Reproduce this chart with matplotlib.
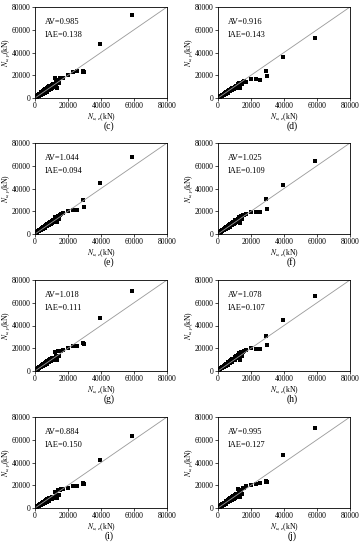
import matplotlib
matplotlib.use("Agg")
import matplotlib.pyplot as plt

plt.rcParams['font.family'] = ['Liberation Serif', 'DejaVu Serif']
plt.rcParams['mathtext.fontset'] = 'stix'

# experimental capacity N_u,e (kN), shared by all panels
n_exp = [500, 700, 900, 1100, 1300, 1500, 1800, 2100, 2400, 2700, 3000, 3400, 3800,
         4200, 4600, 5000, 5400, 5800, 6200, 6600, 7000, 7400, 7800, 8200, 8600, 9000,
         9500, 10000, 10500, 11000, 11500, 12000, 12500, 13000, 13500, 14000, 14500,
         15000, 16000, 17000, 20000, 23000, 25500, 29000, 29300, 29500, 39500, 59000]

# predicted capacity N_u,p (kN) for each method
n_pred_c = [600, 900, 700, 1400, 1600, 1100, 2300, 2600, 1800, 3400, 3700, 2700, 4900,
            5300, 3700, 6300, 6700, 4600, 7700, 8100, 5700, 9200, 9500, 6800, 10500, 10900,
            7900, 11800, 8700, 12500, 9800, 18000, 11800, 14500, 9000, 15500, 12800,
            18000, 17500, 18000, 20500, 23000, 23500, 24000, 23000, 22500, 47500, 73000]
n_pred_d = [500, 750, 750, 1150, 1350, 1200, 1800, 2100, 2000, 2800, 3000, 2800, 3900,
            4200, 3800, 5100, 5400, 4800, 6200, 6600, 5800, 7400, 7800, 6800, 8500, 8900,
            7900, 9800, 8500, 10500, 9000, 12000, 10500, 13000, 8500, 13500, 12000,
            14000, 15000, 14500, 16500, 16500, 16000, 24000, 24000, 19000, 36000, 53000]
n_pred_e = [600, 850, 850, 1300, 1600, 1350, 2200, 2500, 2200, 3200, 3600, 3200, 4500,
            5000, 4300, 5900, 6400, 5500, 7300, 7700, 6600, 8700, 9100, 7800, 9900, 10300,
            9000, 11500, 9500, 12500, 10500, 15000, 12500, 14500, 10500, 16000, 13500,
            17000, 18000, 18500, 20000, 21000, 21000, 29500, 29500, 23500, 45000, 68000]
n_pred_f = [600, 850, 850, 1300, 1550, 1350, 2100, 2450, 2200, 3200, 3500, 3100, 4400,
            4900, 4200, 5800, 6300, 5400, 7200, 7600, 6500, 8500, 8900, 7600, 9800, 10200,
            8800, 12000, 9500, 12500, 10500, 13500, 12500, 15000, 9500, 16000, 13000,
            16500, 17000, 17500, 19000, 19000, 19000, 31000, 31000, 22000, 43500, 64500]
n_pred_g = [600, 850, 850, 1300, 1550, 1350, 2100, 2450, 2200, 3150, 3500, 3100, 4400,
            4900, 4200, 5800, 6200, 5300, 7100, 7600, 6500, 8500, 8900, 7600, 9800, 10200,
            8800, 11000, 9300, 11500, 10000, 17000, 12000, 13500, 10000, 17500, 13000,
            17500, 18000, 18500, 20000, 22000, 22000, 25000, 24500, 24000, 46500, 70500]
n_pred_h = [650, 900, 900, 1350, 1600, 1450, 2200, 2600, 2400, 3300, 3700, 3400, 4600,
            5100, 4600, 6100, 6500, 5700, 7500, 8000, 7000, 9000, 9400, 8200, 10300, 10800,
            9600, 12500, 10000, 13000, 11000, 14000, 13000, 15500, 10000, 16500, 13500,
            17000, 18000, 18500, 20000, 19500, 19500, 31000, 30500, 23000, 44500, 65500]
n_pred_i = [500, 750, 700, 1150, 1350, 1150, 1850, 2150, 1850, 2750, 3100, 2650, 3900,
            4300, 3600, 5100, 5500, 4500, 6300, 6600, 5500, 7500, 7900, 6500, 8600, 9000,
            7500, 9800, 8000, 10000, 8500, 14000, 10500, 12000, 9000, 15500, 11500,
            16000, 16500, 16500, 18000, 19000, 19000, 22000, 21500, 21500, 42000, 63000]
n_pred_j = [600, 850, 800, 1300, 1550, 1250, 2100, 2450, 2000, 3150, 3500, 2900, 4400,
            4800, 3900, 5800, 6200, 5000, 7100, 7500, 6100, 8500, 8900, 7200, 9800, 10200,
            8300, 11000, 9000, 12000, 9500, 17000, 11500, 13500, 9500, 16000, 12500,
            18000, 18000, 19000, 20500, 21500, 22000, 23500, 23000, 23000, 46500, 70500]

panel_labels = ['(c)', '(d)', '(e)', '(f)', '(g)', '(h)', '(i)', '(j)']
av_values = ['0.985', '0.916', '1.044', '1.025', '1.018', '1.078', '0.884', '0.995']
iae_values = ['0.138', '0.143', '0.094', '0.109', '0.111', '0.107', '0.150', '0.127']
preds = [n_pred_c, n_pred_d, n_pred_e, n_pred_f, n_pred_g, n_pred_h, n_pred_i, n_pred_j]
ticks = [0, 20000, 40000, 60000, 80000]

W, H = 362, 550
fig = plt.figure(figsize=(W / 100, H / 100), dpi=100)

col_left = [35, 218]
row_top = [7, 143, 280, 417]
ax_w, ax_h = 132, 91

for k in range(8):
    r, c = divmod(k, 2)
    ax = fig.add_axes([col_left[c] / W, 1 - (row_top[r] + ax_h) / H, ax_w / W, ax_h / H])
    ax.plot([0, 80000], [0, 80000], color='#999999', lw=0.6)
    ax.scatter(n_exp, preds[k], marker='s', s=5, color='black', lw=0)
    ax.set_xlim(0, 80000)
    ax.set_ylim(0, 80000)
    ax.set_xticks(ticks)
    ax.set_yticks(ticks)
    ax.tick_params(labelsize=5.5, length=2, width=0.5, pad=1)
    for s in ax.spines.values():
        s.set_linewidth(0.6)
    ax.text(6000, 67000, 'AV=' + av_values[k], fontsize=6, va='center')
    ax.text(6000, 55500, 'IAE=' + iae_values[k], fontsize=6, va='center')
    ax.set_xlabel(r'$N_{u,e}$(kN)', fontsize=5.5, labelpad=1)
    ax.set_ylabel(r'$N_{u,p}$(kN)', fontsize=5.5, labelpad=0)
    ax.text(0.56, -0.31, panel_labels[k], transform=ax.transAxes, fontsize=7,
            ha='center', va='center')

fig.savefig('out.png', dpi=100)
